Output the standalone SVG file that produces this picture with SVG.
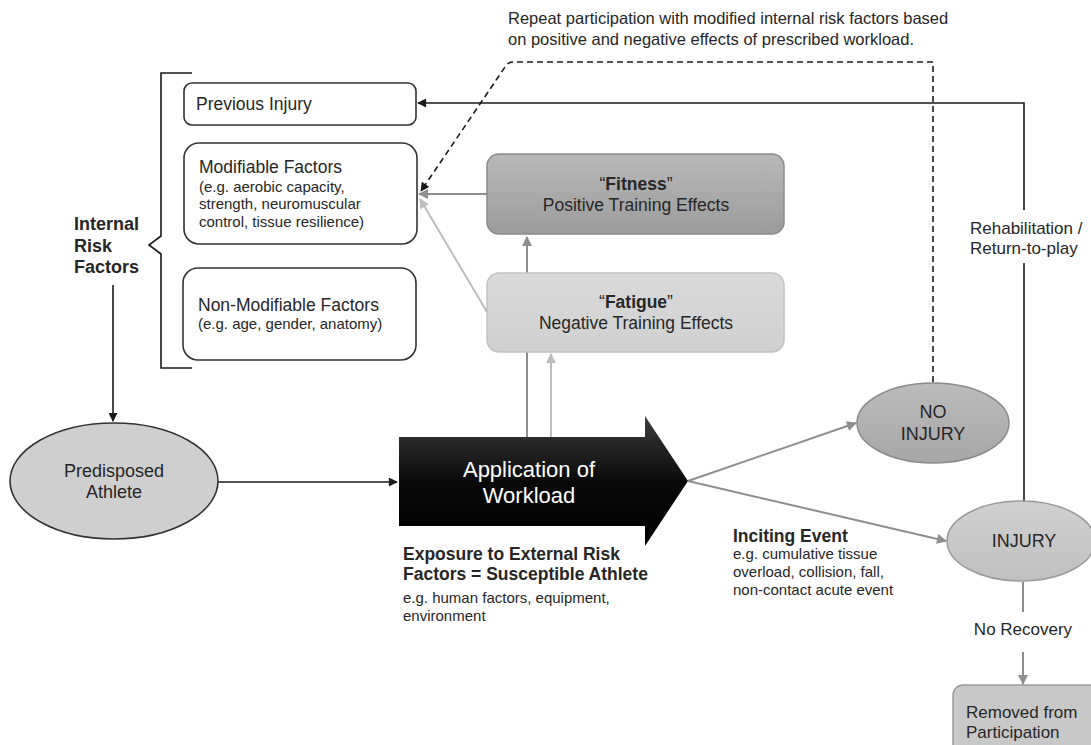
<svg xmlns="http://www.w3.org/2000/svg" width="1091" height="745" viewBox="0 0 1091 745">
<style>
text{font-family:"Liberation Sans",Arial,sans-serif;fill:#262626}
.lbl{font-size:17.5px}
.sub{font-size:15px}
.b{font-weight:bold}
.mid{text-anchor:middle}
.box{fill:#fff;stroke:#333;stroke-width:1.6}
.blk{fill:none;stroke:#1a1a1a;stroke-width:1.6}
.gry{fill:none;stroke:#8e8e8e;stroke-width:2}
.lgr{fill:none;stroke:#bdbdbd;stroke-width:2}
.dsh{fill:none;stroke:#1a1a1a;stroke-width:1.6;stroke-dasharray:6 4}
</style>
<defs>
<marker id="mb" viewBox="0 0 10 10" refX="9" refY="5" markerWidth="11" markerHeight="9" markerUnits="userSpaceOnUse" orient="auto"><path d="M0 0L10 5L0 10Z" fill="#1a1a1a"/></marker>
<marker id="mg" viewBox="0 0 10 10" refX="9" refY="5" markerWidth="12" markerHeight="10" markerUnits="userSpaceOnUse" orient="auto"><path d="M0 0L10 5L0 10Z" fill="#8e8e8e"/></marker>
<marker id="ml" viewBox="0 0 10 10" refX="9" refY="5" markerWidth="12" markerHeight="10" markerUnits="userSpaceOnUse" orient="auto"><path d="M0 0L10 5L0 10Z" fill="#bdbdbd"/></marker>
<linearGradient id="gArrow" x1="0" y1="0" x2="0" y2="1"><stop offset="0" stop-color="#3c3c3c"/><stop offset="0.5" stop-color="#0a0a0a"/><stop offset="1" stop-color="#000"/></linearGradient>
<linearGradient id="gFit" x1="0" y1="0" x2="0" y2="1"><stop offset="0" stop-color="#b8b8b8"/><stop offset="1" stop-color="#9c9c9c"/></linearGradient>
<linearGradient id="gFat" x1="0" y1="0" x2="0" y2="1"><stop offset="0" stop-color="#dadada"/><stop offset="1" stop-color="#d0d0d0"/></linearGradient>
<linearGradient id="gNo" x1="0" y1="0" x2="0" y2="1"><stop offset="0" stop-color="#bcbcbc"/><stop offset="1" stop-color="#a6a6a6"/></linearGradient>
<linearGradient id="gInj" x1="0" y1="0" x2="0" y2="1"><stop offset="0" stop-color="#d0d0d0"/><stop offset="1" stop-color="#c0c0c0"/></linearGradient>
</defs>
<rect width="1091" height="745" fill="#fff"/>

<g id="connectors">
<path class="gry" d="M527 437V237" marker-end="url(#mg)"/>
<path class="lgr" d="M551 437V354" marker-end="url(#ml)"/>
<path class="gry" d="M487 194H419" marker-end="url(#mg)"/>
<path class="lgr" d="M487 312L420 199" marker-end="url(#ml)"/>
<path class="blk" d="M113 285V421" marker-end="url(#mb)"/>
<path class="blk" d="M218 482H397" marker-end="url(#mb)"/>
<path class="gry" d="M688 481L856 423" marker-end="url(#mg)"/>
<path class="gry" d="M688 481L946 541" marker-end="url(#mg)"/>
<path class="blk" d="M1024 501V263"/>
<path class="blk" d="M1024 210V103H418" marker-end="url(#mb)"/>
<path class="dsh" d="M933 382V62H513Q508 62 505 67L421 191" marker-end="url(#mb)"/>
<path class="gry" d="M1023 582V612"/>
<path class="gry" d="M1023 652V684" marker-end="url(#mg)"/>
</g>

<g id="top-note">
<text class="lbl" x="508" y="24" style="font-size:16.5px">Repeat participation with modified internal risk factors based</text>
<text class="lbl" x="508" y="45" style="font-size:16.5px">on positive and negative effects of prescribed workload.</text>
</g>

<g id="bracket">
<path class="blk" d="M192 73H161V236L149 245L161 254V368H192" stroke-width="2"/>
<text class="lbl b" x="74" y="230" style="font-size:18px">Internal</text>
<text class="lbl b" x="74" y="252" style="font-size:18px">Risk</text>
<text class="lbl b" x="74" y="273" style="font-size:18px">Factors</text>
</g>

<g id="previous-injury">
<rect class="box" x="184" y="83" width="232" height="42" rx="8"/>
<text class="lbl" x="196" y="110">Previous Injury</text>
</g>

<g id="modifiable">
<rect class="box" x="184" y="143" width="233" height="101" rx="15"/>
<text class="lbl" x="199" y="173">Modifiable Factors</text>
<text class="sub" x="199" y="192">(e.g. aerobic capacity,</text>
<text class="sub" x="199" y="209">strength, neuromuscular</text>
<text class="sub" x="199" y="227">control, tissue resilience)</text>
</g>

<g id="non-modifiable">
<rect class="box" x="183" y="268" width="233" height="92" rx="15"/>
<text class="lbl" x="198" y="311">Non-Modifiable Factors</text>
<text class="sub" x="198" y="329">(e.g. age, gender, anatomy)</text>
</g>

<g id="fitness">
<rect x="487" y="154" width="297" height="80" rx="12" fill="url(#gFit)" stroke="#8a8a8a" stroke-width="1.5"/>
<text class="lbl mid" x="636" y="190">“<tspan class="b">Fitness</tspan>”</text>
<text class="lbl mid" x="636" y="211">Positive Training Effects</text>
</g>

<g id="fatigue">
<rect x="487" y="273" width="297" height="79" rx="12" fill="url(#gFat)" stroke="#c2c2c2" stroke-width="1.5"/>
<text class="lbl mid" x="636" y="308">“<tspan class="b">Fatigue</tspan>”</text>
<text class="lbl mid" x="636" y="329">Negative Training Effects</text>
</g>

<g id="predisposed-athlete">
<ellipse cx="114" cy="481" rx="104" ry="58" fill="#cfcfcf" stroke="#333" stroke-width="1.6"/>
<text class="mid" x="114" y="477" style="font-size:18px">Predisposed</text>
<text class="mid" x="114" y="498" style="font-size:18px">Athlete</text>
</g>

<g id="workload">
<path d="M399 437H645V416L688 481L645 546V526H399Z" fill="url(#gArrow)"/>
<text class="mid" x="529" y="477" style="font-size:22px;fill:#fff">Application of</text>
<text class="mid" x="529" y="503" style="font-size:22px;fill:#fff">Workload</text>
</g>

<g id="exposure">
<text class="lbl b" x="403" y="560">Exposure to External Risk</text>
<text class="lbl b" x="403" y="580">Factors = Susceptible Athlete</text>
<text class="sub" x="403" y="603">e.g. human factors, equipment,</text>
<text class="sub" x="403" y="621">environment</text>
</g>

<g id="no-injury">
<ellipse cx="933" cy="423" rx="76" ry="40" fill="url(#gNo)" stroke="#8a8a8a" stroke-width="1.5"/>
<text class="mid" x="933" y="418" style="font-size:18px">NO</text>
<text class="mid" x="933" y="440" style="font-size:18px">INJURY</text>
</g>

<g id="injury">
<ellipse cx="1021" cy="541" rx="74" ry="40" fill="url(#gInj)" stroke="#9a9a9a" stroke-width="1.5"/>
<text class="mid" x="1024" y="547" style="font-size:18px">INJURY</text>
</g>

<g id="inciting-event">
<text class="lbl b" x="733" y="542">Inciting Event</text>
<text class="sub" x="733" y="559">e.g. cumulative tissue</text>
<text class="sub" x="733" y="577">overload, collision, fall,</text>
<text class="sub" x="733" y="595">non-contact acute event</text>
</g>

<g id="rehab-label">
<text class="lbl" x="970" y="234" style="font-size:17px">Rehabilitation /</text>
<text class="lbl" x="970" y="254" style="font-size:17px">Return-to-play</text>
</g>

<g id="no-recovery">
<text class="mid" x="1023" y="635" style="font-size:17px">No Recovery</text>
</g>

<g id="removed">
<rect x="953" y="685" width="150" height="72" rx="10" fill="#c8c8c8" stroke="#9a9a9a" stroke-width="1.5"/>
<text x="966" y="718" style="font-size:17px">Removed from</text>
<text x="966" y="738" style="font-size:17px">Participation</text>
</g>
</svg>
